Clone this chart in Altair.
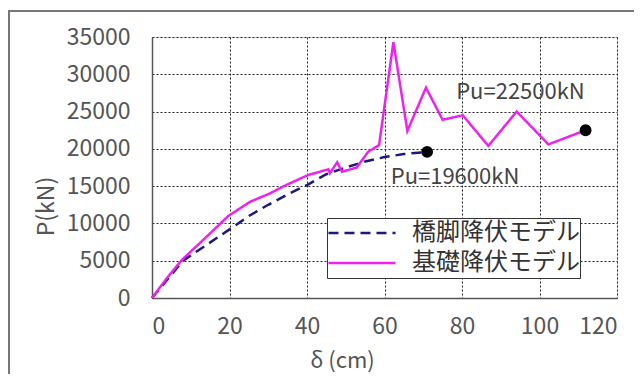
import altair as alt
import pandas as pd

# Data
pier_x = [0, 8, 14, 20, 25, 30, 35, 40, 45, 50, 55, 60, 65, 71]
pier_y = [0, 5000, 7100, 9200, 11000, 12500, 13900, 15150, 16600, 17500, 18300, 18900, 19300, 19600]
found_x = [0, 3.8, 7.7, 13.2, 19.7, 25.3, 30.5, 34, 40.3, 45.5, 45.9, 47.8, 49, 52.8, 55.8,
           58.6, 62.3, 65.9, 70.7, 75, 80.2, 86.8, 94.1, 102.3, 111.9]
found_y = [0, 2640, 5100, 7780, 11000, 12900, 14040, 15000, 16490, 17250, 16720, 18200, 16940, 17480, 19620,
           20500, 34300, 22400, 28200, 23900, 24500, 20400, 25000, 20600, 22500]
series_names = ["橋脚降伏モデル", "基礎降伏モデル"]
pu_x = [71, 111.9]
pu_y = [19600, 22500]
ann_x = [61.6, 78.5]
ann_y = [16160, 27620]
ann_text = ["Pu=19600kN", "Pu=22500kN"]
x_ticks = [0, 20, 40, 60, 80, 100, 120]
y_ticks = [0, 5000, 10000, 15000, 20000, 25000, 30000, 35000]

rows = []
for i, (x, y) in enumerate(zip(pier_x, pier_y)):
    rows.append({"model": series_names[0], "d": x, "P": y, "o": i})
for i, (x, y) in enumerate(zip(found_x, found_y)):
    rows.append({"model": series_names[1], "d": x, "P": y, "o": i})
df = pd.DataFrame(rows)
pts = pd.DataFrame({"d": pu_x, "P": pu_y})
ann = pd.DataFrame({"d": ann_x, "P": ann_y, "t": ann_text})

FONT = "Noto Sans CJK JP"
LEG_FONT = "Liberation Sans, Noto Sans CJK JP"

xscale = alt.Scale(domain=[0, 120], nice=False)
yscale = alt.Scale(domain=[0, 35000], nice=False)

xaxis = alt.Axis(values=x_ticks, format="d", title="δ (cm)", ticks=False,
                 labelPadding=17, labelFontSize=23, labelColor="#555", labelFont=FONT,
                 titleFont=FONT, titleFontSize=22, titleColor="#555", titleFontWeight="normal",
                 titleX=190, titleY=62, titleBaseline="middle",
                 grid=True, gridColor="#222", gridDash=[2, 2], gridWidth=1,
                 domainColor="#555", domainWidth=1.5)
yaxis = alt.Axis(values=y_ticks, format="d", title="P(kN)", ticks=False,
                 labelPadding=22, labelFontSize=23, labelColor="#555", labelFont=FONT,
                 titleFont=FONT, titleFontSize=23, titleColor="#555", titleFontWeight="normal",
                 titleX=-106, titleY=169, titleBaseline="middle", titleAngle=270,
                 grid=True, gridColor="#222", gridDash=[2, 2], gridWidth=1,
                 domainColor="#555", domainWidth=1.5)

leg = alt.Legend(title=None, orient="none", legendX=175, legendY=181,
                 labelFont=LEG_FONT, labelFontSize=24, labelColor="#333",
                 symbolType="stroke", symbolSize=4489, symbolStrokeWidth=2.5,
                 strokeColor="#333", fillColor="white", padding=0, clipHeight=30,
                 rowPadding=0, labelOffset=15, labelLimit=400)

X = alt.X("d:Q", scale=xscale, axis=xaxis)
Y = alt.Y("P:Q", scale=yscale, axis=yaxis)

lines = alt.Chart(df).mark_line(strokeWidth=2.5).encode(
    x=X, y=Y,
    color=alt.Color("model:N", scale=alt.Scale(domain=series_names, range=["#1a1a78", "#ee22ee"]), legend=leg),
    strokeDash=alt.StrokeDash("model:N", scale=alt.Scale(domain=series_names, range=[[10, 6], [1, 0]]), legend=leg),
    order="o:Q",
)

dots = alt.Chart(pts).mark_point(filled=True, color="black", size=140, opacity=1).encode(x=X, y=Y)

texts = alt.Chart(ann).mark_text(align="left", baseline="middle", font=FONT, fontSize=22, color="#444").encode(
    x=X, y=Y, text="t:N")

frame = alt.Chart(pd.DataFrame({"a": [0]})).mark_rect(filled=False, stroke="#777", strokeWidth=2, clip=False).encode(
    x=alt.value(-143), x2=alt.value(520), y=alt.value(-26), y2=alt.value(400))

chart = alt.layer(lines, dots, texts, frame).properties(
    width=465, height=261,
    autosize=alt.AutoSizeParams(type="none"),
    padding={"left": 144, "top": 29, "right": 17, "bottom": 76},
).configure_view(stroke="#555", strokeWidth=1.5).configure(font=FONT)

chart.save("out.html", embed_options={"renderer": "svg", "actions": False})
